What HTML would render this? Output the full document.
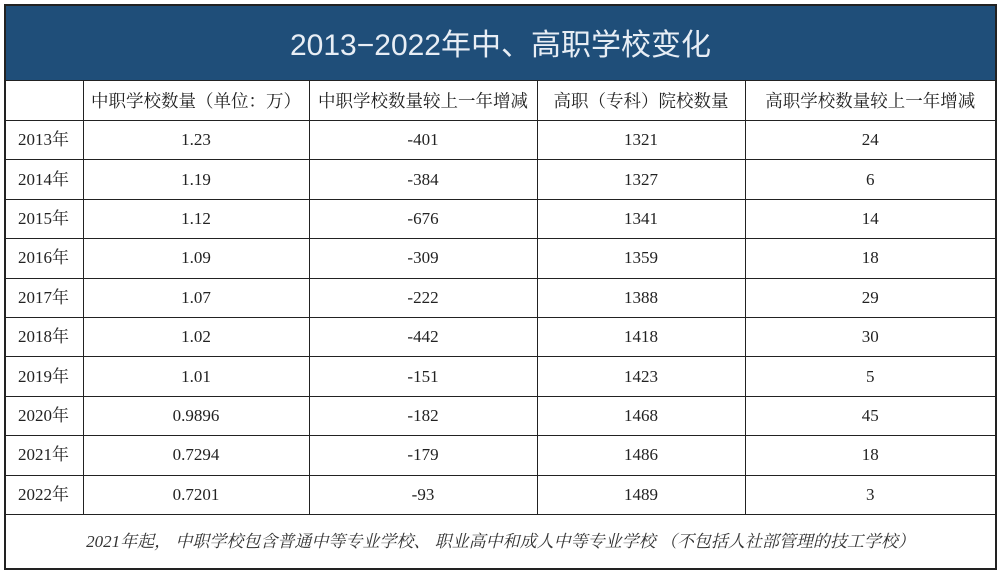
<!DOCTYPE html>
<html><head><meta charset="utf-8"><style>
body{margin:0;width:1000px;height:573px;background:#fff;position:relative;overflow:hidden;font-family:"Liberation Serif","Noto Serif CJK SC",serif;color:#222}
.frame{position:absolute;left:4px;top:4px;width:989px;height:562px;border:2px solid #222}
.title{position:absolute;left:6px;top:6px;width:989px;height:74px;background:#1f4e79;color:#e8eef5;font-family:"Liberation Sans","Noto Sans CJK SC",sans-serif;font-size:30px;text-align:center;line-height:80px}
table{position:absolute;left:6px;top:80px;border-collapse:collapse;table-layout:fixed}
td{border:1.5px solid #222;text-align:center;font-size:17px;padding:0;height:38.4px;line-height:20px}
tr.h td{height:39px;font-size:17.5px}
td.y{text-align:left;padding-left:12px}
.note{position:absolute;left:6px;top:516px;width:989px;height:50px;line-height:52px;text-align:center;font-style:italic;font-size:17px;color:#333}
</style></head><body>
<div class="frame"></div>
<div class="title">2013−2022年中、高职学校变化</div>
<table>
<colgroup><col style="width:77px"><col style="width:226px"><col style="width:228px"><col style="width:208px"><col style="width:250px"></colgroup>
<tr class="h"><td style="border-left:none"></td><td>中职学校数量（单位：万）</td><td>中职学校数量较上一年增减</td><td>高职（专科）院校数量</td><td style="border-right:none">高职学校数量较上一年增减</td></tr>
<tr><td class="y" style="border-left:none">2013年</td><td>1.23</td><td>-401</td><td>1321</td><td style="border-right:none">24</td></tr>
<tr><td class="y" style="border-left:none">2014年</td><td>1.19</td><td>-384</td><td>1327</td><td style="border-right:none">6</td></tr>
<tr><td class="y" style="border-left:none">2015年</td><td>1.12</td><td>-676</td><td>1341</td><td style="border-right:none">14</td></tr>
<tr><td class="y" style="border-left:none">2016年</td><td>1.09</td><td>-309</td><td>1359</td><td style="border-right:none">18</td></tr>
<tr><td class="y" style="border-left:none">2017年</td><td>1.07</td><td>-222</td><td>1388</td><td style="border-right:none">29</td></tr>
<tr><td class="y" style="border-left:none">2018年</td><td>1.02</td><td>-442</td><td>1418</td><td style="border-right:none">30</td></tr>
<tr><td class="y" style="border-left:none">2019年</td><td>1.01</td><td>-151</td><td>1423</td><td style="border-right:none">5</td></tr>
<tr><td class="y" style="border-left:none">2020年</td><td>0.9896</td><td>-182</td><td>1468</td><td style="border-right:none">45</td></tr>
<tr><td class="y" style="border-left:none">2021年</td><td>0.7294</td><td>-179</td><td>1486</td><td style="border-right:none">18</td></tr>
<tr><td class="y" style="border-left:none">2022年</td><td>0.7201</td><td>-93</td><td>1489</td><td style="border-right:none">3</td></tr>
</table>
<div class="note">2021年起， 中职学校包含普通中等专业学校、 职业高中和成人中等专业学校 （不包括人社部管理的技工学校）</div>
</body></html>
